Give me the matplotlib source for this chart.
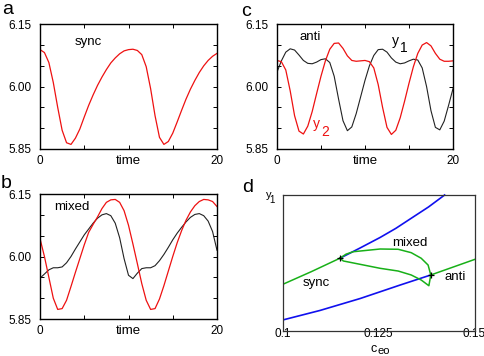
import numpy as np
import matplotlib.pyplot as plt

plt.rcParams['font.family'] = ['Liberation Sans', 'DejaVu Sans']

# sample times for panels a-c
t = np.arange(0, 20.5, 0.5)

# panel a: synchronous solution
sync_y = [6.089, 6.082, 6.058, 6.010, 5.950, 5.895, 5.865, 5.861, 5.876, 5.898,
          5.927, 5.955, 5.980, 6.003, 6.023, 6.041, 6.057, 6.069, 6.079, 6.086,
          6.089, 6.090, 6.087, 6.077, 6.048, 5.995, 5.930, 5.878, 5.861, 5.868,
          5.888, 5.915, 5.943, 5.970, 5.994, 6.015, 6.034, 6.050, 6.063, 6.073,
          6.080]

# panel b: mixed solution
mixed_y1 = [5.948, 5.958, 5.968, 5.973, 5.973, 5.975, 5.985, 6.000, 6.018, 6.035,
            6.052, 6.066, 6.080, 6.092, 6.100, 6.103, 6.098, 6.080, 6.045, 5.995,
            5.955, 5.947, 5.960, 5.971, 5.973, 5.973, 5.978, 5.990, 6.005, 6.022,
            6.040, 6.056, 6.070, 6.083, 6.094, 6.101, 6.103, 6.098, 6.085, 6.060,
            6.015]
mixed_y2 = [6.043, 6.000, 5.950, 5.900, 5.873, 5.875, 5.895, 5.928, 5.962, 5.995,
            6.028, 6.058, 6.077, 6.095, 6.115, 6.130, 6.136, 6.137, 6.130, 6.110,
            6.075, 6.030, 5.983, 5.935, 5.895, 5.873, 5.875, 5.898, 5.930, 5.965,
            6.000, 6.033, 6.062, 6.087, 6.107, 6.122, 6.132, 6.137, 6.136, 6.132,
            6.120]

# panel c: anti-phase solution
anti_y1 = [6.035, 6.062, 6.083, 6.091, 6.088, 6.076, 6.063, 6.056, 6.055, 6.059,
           6.065, 6.067, 6.058, 6.025, 5.970, 5.918, 5.894, 5.903, 5.935, 5.975,
           6.015, 6.050, 6.075, 6.089, 6.090, 6.083, 6.069, 6.059, 6.055, 6.057,
           6.062, 6.066, 6.064, 6.045, 6.000, 5.942, 5.902, 5.896, 5.917, 5.955,
           5.995]
anti_y2 = [6.063, 6.060, 6.040, 5.990, 5.930, 5.893, 5.886, 5.905, 5.940, 5.983,
           6.025, 6.062, 6.090, 6.104, 6.105, 6.092, 6.074, 6.063, 6.061, 6.062,
           6.063, 6.060, 6.045, 6.005, 5.950, 5.902, 5.885, 5.895, 5.925, 5.965,
           6.008, 6.048, 6.080, 6.100, 6.106, 6.098, 6.080, 6.066, 6.061, 6.061,
           6.062]

# panel d: bifurcation diagram (y1 in arbitrary units)
sync_c = [0.1, 0.1075, 0.1149]
sync_v = [0.343, 0.437, 0.535]
anti_c = [0.1386, 0.15]
anti_v = [0.412, 0.526]
ub_c = [0.1149, 0.1200, 0.1254, 0.1295, 0.1335, 0.1380, 0.1422]
ub_v = [0.535, 0.608, 0.688, 0.755, 0.829, 0.912, 1.0]
lb_c = [0.1, 0.1097, 0.1202, 0.1306, 0.1386]
lb_v = [0.081, 0.151, 0.239, 0.338, 0.412]
mix_c = [0.1149, 0.1165, 0.1184, 0.1254, 0.1301, 0.1335, 0.1361, 0.1379, 0.1386,
         0.1381, 0.1361, 0.1335, 0.1301, 0.1254, 0.1158, 0.1149]
mix_v = [0.535, 0.565, 0.583, 0.603, 0.601, 0.576, 0.535, 0.485, 0.412,
         0.333, 0.375, 0.412, 0.441, 0.461, 0.515, 0.535]
pts_c = [0.1149, 0.1386]
pts_v = [0.535, 0.412]

RED = '#ee1111'
BLUE = '#1010ee'
GREEN = '#18b018'

fig = plt.figure(figsize=(4.85, 3.56), dpi=100)


def time_axes(rect):
    ax = fig.add_axes(rect)
    ax.set_xlim(0, 20)
    ax.set_ylim(5.85, 6.15)
    ax.set_xticks([0, 5, 10, 15, 20])
    ax.set_xticklabels(['0', '', '', '', '20'])
    ax.set_yticks([5.85, 5.90, 5.95, 6.00, 6.05, 6.10, 6.15])
    ax.set_yticklabels(['5.85', '', '', '6.00', '', '', '6.15'])
    ax.tick_params(direction='in', length=3, width=0.7, top=True, right=True,
                   labelsize=8.5)
    ax.tick_params(axis='y', pad=6)
    ax.tick_params(axis='x', pad=4)
    for s in ax.spines.values():
        s.set_linewidth(1.0)
    ax.text(0.5, -0.05, 'time', transform=ax.transAxes, ha='center', va='top',
            fontsize=9.5)
    return ax


# a
ax_a = time_axes([0.0825, 0.5815, 0.3649, 0.3503])
ax_a.plot(t, sync_y, color=RED, lw=0.9)

# b
ax_b = time_axes([0.0825, 0.1039, 0.3649, 0.3511])
ax_b.plot(t, mixed_y1, color='#222222', lw=0.8)
ax_b.plot(t, mixed_y2, color=RED, lw=0.9)

# c
ax_c = time_axes([0.5711, 0.5815, 0.3629, 0.3503])
ax_c.plot(t, anti_y1, color='#222222', lw=0.8)
ax_c.plot(t, anti_y2, color=RED, lw=0.9)

# d
ax_d = fig.add_axes([0.5829, 0.0702, 0.3955, 0.382])
ax_d.set_xlim(0.1, 0.15)
ax_d.set_ylim(0, 1)
ax_d.set_xticks([0.1, 0.125, 0.15])
ax_d.set_xticklabels(['0.1', '0.125', '0.15'])
ax_d.set_yticks([])
ax_d.tick_params(length=0, labelsize=8.5, pad=-2)
for s in ax_d.spines.values():
    s.set_linewidth(0.9)
    s.set_color('#333333')
ax_d.plot(ub_c, ub_v, color=BLUE, lw=1.2, clip_on=False)
ax_d.plot(lb_c, lb_v, color=BLUE, lw=1.2)
ax_d.plot(sync_c, sync_v, color=GREEN, lw=1.1)
ax_d.plot(anti_c, anti_v, color=GREEN, lw=1.1)
ax_d.plot(mix_c, mix_v, color=GREEN, lw=1.1)
ax_d.plot(pts_c, pts_v, '+', color='black', ms=4, mew=0.9)

# labels placed in figure pixels (origin top-left, 485 x 356)
H = 356


def ftxt(x, y, s, **kw):
    fig.text(x / 485, 1 - y / H, s, ha='center', va='center', **kw)


ftxt(88, 42, 'sync', fontsize=9.5)
ftxt(72, 206.7, 'mixed', fontsize=9.5)
ftxt(310, 37, 'anti', fontsize=9.5)
ftxt(395, 41, 'y', fontsize=10)
ftxt(403.5, 48.5, '1', fontsize=10)
ftxt(316.5, 124, 'y', fontsize=10, color=RED)
ftxt(325, 131.5, '2', fontsize=10, color=RED)
ftxt(409.7, 242.7, 'mixed', fontsize=9.5)
ftxt(454.7, 277.3, 'anti', fontsize=9.5)
ftxt(316, 282.7, 'sync', fontsize=9.5)
ftxt(268.3, 195, 'y', fontsize=8)
ftxt(272.3, 200, '1', fontsize=7)
ftxt(374, 348.8, 'c', fontsize=9)
ftxt(384, 351.2, 'eo', fontsize=8)

ftxt(8, 9, 'a', fontsize=14)
ftxt(6, 183, 'b', fontsize=14)
ftxt(246, 12, 'c', fontsize=14)
ftxt(248, 187, 'd', fontsize=14)

fig.savefig('out.png', dpi=100)
